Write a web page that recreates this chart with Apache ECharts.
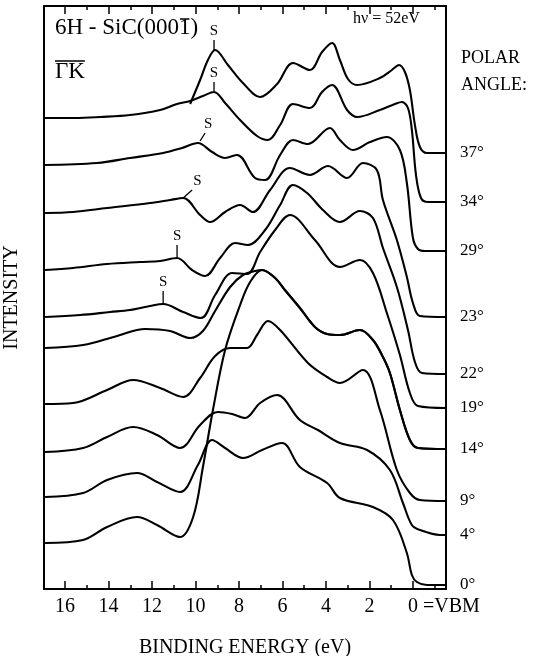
<!DOCTYPE html>
<html>
<head>
<meta charset="utf-8">
<script src="https://cdn.jsdelivr.net/npm/echarts@6.0.0/dist/echarts.min.js"></script>
<style>
html, body { margin: 0; padding: 0; background: #fff; }
#chart { width: 537px; height: 656px; }
</style>
</head>
<body>
<div id="chart"></div>
<script>
// [binding energy (eV), intensity (arb. units)], one array per spectrum
const spec37 = [[10.25,485],[9.79,509],[9.43,529],[9.10,539],[8.51,524],[7.82,506],[7.03,492],[6.25,505],[5.52,526],[4.74,519],[4.18,537],[3.72,546],[3.36,529],[2.99,510],[2.57,504],[1.52,511],[0.97,519],[0.64,524],[0.37,517],[0.14,499],[-0.09,464],[-0.32,442],[-0.64,436],[-1.52,436]];
const spec34 = [[16.97,471],[15.54,471],[14.39,472],[13.01,474],[11.63,479],[10.85,485],[10.25,488],[9.66,493],[9.15,497],[8.64,486],[7.95,469],[7.17,453],[6.67,449],[6.11,464],[5.52,485],[4.74,481],[4.18,497],[3.72,504],[3.03,479],[2.57,472],[1.52,479],[0.83,485],[0.51,487],[0.23,481],[0.05,459],[-0.14,414],[-0.37,391],[-0.69,387],[-1.52,387]];
const spec29 = [[16.97,424],[14.53,426],[13.01,431],[11.49,436],[10.62,441],[9.89,446],[9.24,437],[8.64,431],[8.09,434],[7.26,411],[6.80,409],[6.11,434],[5.52,449],[4.83,445],[3.82,461],[3.36,449],[2.76,439],[1.98,447],[1.20,452],[0.60,439],[0.28,406],[0.00,351],[-0.23,340],[-0.55,338],[-1.52,338]];
const spec23 = [[16.92,376],[15.63,377],[14.07,381],[12.09,386],[11.17,389],[10.57,391],[9.79,374],[9.33,367],[8.64,377],[7.95,384],[7.36,377],[6.57,399],[5.66,421],[4.74,414],[3.91,423],[3.03,411],[2.30,426],[1.66,419],[1.38,389],[0.74,349],[0.28,312],[0.00,286],[-0.32,273],[-1.52,272]];
const spec22 = [[16.92,319],[15.63,321],[14.07,325],[12.55,327],[11.63,328],[10.85,331],[10.16,319],[9.56,313],[8.87,331],[8.18,346],[7.59,344],[6.80,359],[6.11,384],[5.52,404],[4.87,396],[4.14,379],[3.36,367],[2.44,378],[1.84,371],[1.38,341],[0.74,302],[0.23,259],[-0.09,227],[-0.41,216],[-1.52,215]];
const spec19 = [[16.92,272],[15.31,274],[13.93,277],[13.01,279],[12.09,283],[11.49,285],[10.57,277],[9.75,271],[9.10,294],[8.32,316],[7.63,315],[7.03,337],[6.34,359],[5.66,374],[4.51,349],[3.36,322],[2.44,329],[1.84,316],[1.20,276],[0.60,234],[0.14,196],[-0.23,183],[-1.52,181]];
const spec14 = [[16.92,241],[15.17,244],[13.61,253],[12.32,260],[11.17,258],[10.25,251],[9.66,258],[9.10,278],[8.41,302],[7.82,314],[7.26,318],[6.94,319],[6.34,311],[5.89,299],[5.20,281],[4.51,262],[3.95,255],[3.36,254],[2.44,259],[1.84,249],[1.38,232],[1.06,216],[0.60,179],[0.14,149],[-0.23,141],[-1.52,140]];
const spec9 = [[16.92,185],[15.63,186],[14.07,199],[12.87,209],[11.63,201],[10.57,192],[9.79,211],[9.10,233],[8.41,241],[7.63,241],[7.17,254],[6.67,268],[6.11,259],[4.83,226],[3.95,212],[3.36,206],[2.30,219],[1.52,179],[0.74,119],[0.14,96],[-0.32,89],[-1.52,88]];
const spec4 = [[16.92,137],[15.17,141],[14.07,152],[12.87,162],[11.77,154],[10.71,141],[9.79,164],[8.97,177],[8.32,175],[7.72,171],[7.03,186],[6.25,194],[5.20,169],[4.37,159],[3.36,146],[2.11,139],[1.06,119],[0.46,86],[0.05,64],[-0.32,59],[-1.24,54],[-1.52,54]];
const spec0 = [[16.92,92],[15.17,96],[14.07,109],[12.69,116],[11.77,107],[10.71,97],[9.89,124],[9.24,149],[8.64,141],[7.82,131],[6.94,139],[6.02,146],[5.20,122],[3.95,106],[3.36,91],[1.84,82],[0.92,69],[0.28,36],[0.05,14],[-0.18,7],[-0.64,4],[-1.52,4]];
// lowest trace: its own low-energy part, then it runs into the 14° trace
const specLowStart = [[16.92,46],[15.17,49],[14.07,62],[12.69,72],[11.77,64],[10.71,52],[10.11,72],[9.66,122],[9.20,179],[8.64,239],[7.95,284],[7.49,307]];

const angleLabels = ['37°','34°','29°','23°','22°','19°','14°','9°','4°','0°'];

// surface state peaks "S"
const sEnergy = [9.15, 9.15, 9.79, 10.57, 10.85, 11.49];
const sIntensity = [538, 497, 447, 390, 331, 285];

const majorTicks = [2, 4, 6, 8, 10, 12, 14, 16];
const zeroTick = [0];
const minorTicks = [-1, 1, 3, 5, 7, 9, 11, 13, 15];
const eMin = -1.52, eMax = 16.97;
const iMin = 0, iMax = 583;

// tick strokes of the S marks (pixel offsets from the peak)
const sTickDx = [0, 0, 5, 9, 0, 0];
const sTickLen = [11, 10, 9, 9, 13, 13];

const serif = '"Liberation Serif", "Times New Roman", serif';

function textWidth(txt, size) {
    const ctx = document.createElement('canvas').getContext('2d');
    ctx.font = size + 'px ' + serif;
    return ctx.measureText(txt).width;
}

const chart = echarts.init(document.getElementById('chart'));

const specs = [spec37, spec34, spec29, spec23, spec22, spec19, spec14, spec9, spec4, spec0];
const specLow = specLowStart.concat(spec14.filter(p => p[0] <= 6.94));

const ends = specs.map(s => s[s.length - 1][1]);
const endToAngle = {};
ends.forEach((v, i) => { endToAngle[v] = angleLabels[i]; });

const lineSeries = specs.concat([specLow]).map(d => ({
    type: 'line',
    data: d,
    smooth: 0.35,
    symbol: 'none',
    silent: true,
    lineStyle: { color: '#000', width: 2.1 }
}));

const sSeries = {
    type: 'custom',
    silent: true,
    data: sEnergy.map((e, i) => [e, sIntensity[i]]),
    renderItem: function (params, api) {
        const p = api.coord([api.value(0), api.value(1)]);
        const i = params.dataIndex;
        const tx = p[0] + sTickDx[i], ty = p[1] - sTickLen[i];
        return {
            type: 'group',
            children: [
                { type: 'line', shape: { x1: p[0], y1: p[1] - 1, x2: tx, y2: ty }, style: { stroke: '#000', lineWidth: 1.3 } },
                { type: 'text', style: { text: 'S', x: tx + sTickDx[i] * 0.6, y: ty - 9, align: 'center', verticalAlign: 'middle', font: '15px ' + serif, fill: '#000' } }
            ]
        };
    }
};

function eAxis(ticks, len, pos, extra) {
    return Object.assign({
        type: 'value', min: eMin, max: eMax, inverse: true, position: pos,
        axisLine: { show: true, onZero: false, lineStyle: { color: '#000', width: 2 } },
        axisTick: { show: true, inside: true, length: len, customValues: ticks, lineStyle: { color: '#000', width: 1.5 } },
        axisLabel: { show: false },
        splitLine: { show: false }
    }, extra || {});
}

const labelFont = { color: '#000', fontFamily: serif, fontSize: 20 };

const titleText = '6H - SiC(000';
const titleSize = 23;
const titleX = 55;
const x1 = titleX + textWidth(titleText, titleSize);
const w1 = textWidth('1', titleSize);
const gkW = textWidth('ΓK', titleSize);

const option = {
    animation: false,
    backgroundColor: '#fff',
    grid: { left: 44, right: 91, top: 6, bottom: 67, containLabel: false, outerBoundsMode: 'none' },
    xAxis: [
        eAxis(majorTicks, 8, 'bottom', {
            axisLabel: Object.assign({ show: true, customValues: majorTicks, margin: 8 }, labelFont),
            name: 'BINDING ENERGY (eV)', nameLocation: 'middle', nameGap: 49,
            nameTextStyle: labelFont
        }),
        eAxis(minorTicks, 4, 'bottom', { axisLine: { show: false, onZero: false } }),
        eAxis(majorTicks.concat(zeroTick), 8, 'top'),
        eAxis(minorTicks, 4, 'top', { axisLine: { show: false, onZero: false } }),
        eAxis(zeroTick, 8, 'bottom', {
            axisLine: { show: false, onZero: false },
            axisLabel: Object.assign({
                show: true, customValues: zeroTick, margin: 8,
                formatter: () => '{pad|=VBM }0 =VBM',
                rich: { pad: { color: 'rgba(0,0,0,0)', fontFamily: serif, fontSize: 20 } }
            }, labelFont)
        })
    ],
    yAxis: [
        {
            type: 'value', min: iMin, max: iMax, position: 'left',
            axisLine: { show: true, onZero: false, lineStyle: { color: '#000', width: 2 } },
            axisTick: { show: false }, axisLabel: { show: false }, splitLine: { show: false },
            name: 'INTENSITY', nameLocation: 'middle', nameGap: 22, nameRotate: 90,
            nameTextStyle: { color: '#000', fontFamily: serif, fontSize: 20 }
        },
        {
            type: 'value', min: iMin, max: iMax, position: 'right',
            axisLine: { show: true, onZero: false, lineStyle: { color: '#000', width: 2 } },
            axisTick: { show: false }, splitLine: { show: false },
            axisLabel: {
                show: true, customValues: ends, margin: 14, color: '#000',
                fontFamily: serif, fontSize: 17,
                formatter: v => endToAngle[v] || ''
            }
        }
    ],
    graphic: [
        { type: 'text', x: titleX, y: 28, style: { text: titleText + '1)', font: titleSize + 'px ' + serif, fill: '#000', verticalAlign: 'middle' } },
        { type: 'line', shape: { x1: x1 + 1, y1: 19, x2: x1 + w1 - 1, y2: 19 }, style: { stroke: '#000', lineWidth: 1.5 } },
        { type: 'text', x: titleX, y: 72, style: { text: 'ΓK', font: titleSize + 'px ' + serif, fill: '#000', verticalAlign: 'middle' } },
        { type: 'line', shape: { x1: titleX, y1: 61, x2: titleX + gkW, y2: 61 }, style: { stroke: '#000', lineWidth: 1.5 } },
        { type: 'text', x: 353, y: 19, style: { text: 'hν = 52eV', font: '16px ' + serif, fill: '#000', verticalAlign: 'middle' } },
        { type: 'text', x: 461, y: 58, style: { text: 'POLAR', font: '18px ' + serif, fill: '#000', verticalAlign: 'middle' } },
        { type: 'text', x: 461, y: 85, style: { text: 'ANGLE:', font: '18px ' + serif, fill: '#000', verticalAlign: 'middle' } }
    ],
    series: lineSeries.concat([sSeries])
};

chart.setOption(option);
</script>
</body>
</html>
